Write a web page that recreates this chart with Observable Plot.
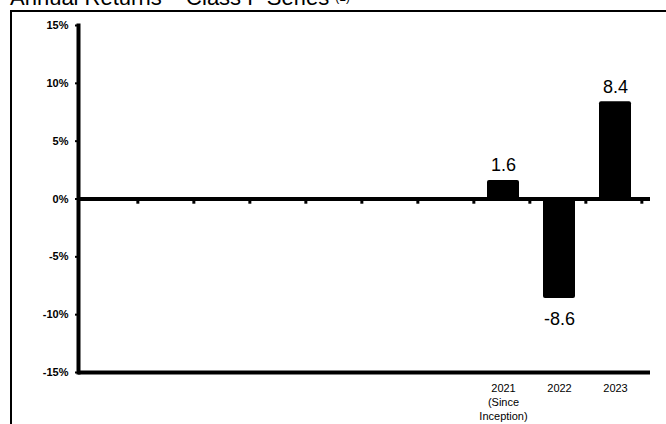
<!DOCTYPE html>
<html>
<head>
<meta charset="utf-8">
<script src="https://cdn.jsdelivr.net/npm/d3@7"></script>
<script src="https://cdn.jsdelivr.net/npm/@observablehq/plot@0.6"></script>
<style>
  html, body { margin: 0; padding: 0; background: #fff; overflow: hidden; }
  body { width: 666px; height: 424px; position: relative; font-family: "Liberation Sans", Arial, sans-serif; }
  #title { position: absolute; left: 10px; top: -13px; font-size: 22px; line-height: 1; white-space: nowrap; color: #000; }
  #title .sup { font-size: 12px; vertical-align: 4px; }
  #box { position: absolute; left: 10px; top: 10px; width: 700px; height: 500px; border: 2px solid #000; }
  #chart { position: absolute; left: 0; top: 0; }
</style>
</head>
<body>
<div id="title">Annual Returns – Class F Series <span class="sup">(1)</span></div>
<div id="box"></div>
<div id="chart"></div>
<script>
const categories = ["s1", "s2", "s3", "s4", "s5", "s6", "s7", "2021", "2022", "2023"];
const years = ["2021", "2022", "2023"];
const returns = [1.6, -8.6, 8.4];
const tickLabels = { "2021": "2021\n(Since\nInception)", "2022": "2022", "2023": "2023" };
const yTicks = [-15, -10, -5, 0, 5, 10, 15];

const data = years.map((y, i) => ({ year: y, value: returns[i] }));
const step = (645 - 78) / categories.length;

const chart = Plot.plot({
  width: 666,
  height: 424,
  marginLeft: 78,
  marginRight: 16,
  marginTop: 25,
  marginBottom: 52,
  style: { fontFamily: "Liberation Sans, Arial, sans-serif", background: "transparent", color: "#000" },
  x: { type: "band", domain: categories, range: [80, 647], paddingInner: 0.42, paddingOuter: 0.21, label: null },
  y: { domain: [-15, 15], label: null },
  marks: [
    Plot.frame({ anchor: "left", stroke: "#000", strokeWidth: 4 }),
    Plot.ruleY([-15], { stroke: "#000", strokeWidth: 4 }),
    Plot.barY(data, { x: "year", y: "value", fill: "#000", rx: 2 }),
    Plot.ruleY([0], { stroke: "#000", strokeWidth: 4 }),
    Plot.ruleX(categories, { x: d => d, y1: 0, y2: -0.45, dx: step / 2 - 2, stroke: "#000", strokeWidth: 3 }),
    Plot.axisY({ ticks: yTicks, tickFormat: d => d + "%", tickSize: 3, tickPadding: 7, fontSize: 11, fontWeight: "bold", strokeWidth: 2 }),
    Plot.axisX({ ticks: years, tickFormat: d => tickLabels[d], tickSize: 0, tickPadding: 9, fontSize: 11, lineHeight: 1.3 }),
    Plot.text(data, { x: "year", y: "value", text: d => d.value.toFixed(1), fontSize: 18, lineAnchor: "bottom",
      filter: d => d.value >= 0, dy: -9 }),
    Plot.text(data, { x: "year", y: "value", text: d => d.value.toFixed(1), fontSize: 18, lineAnchor: "top",
      filter: d => d.value < 0, dy: 14 })
  ]
});
document.getElementById("chart").appendChild(chart);
</script>
</body>
</html>
